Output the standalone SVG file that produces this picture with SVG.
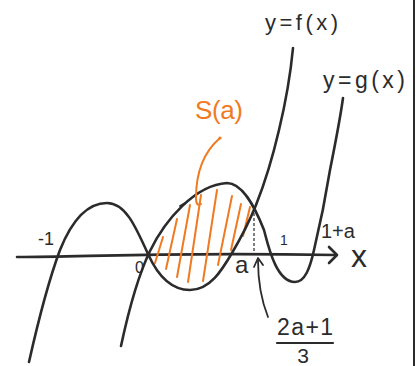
<svg xmlns="http://www.w3.org/2000/svg" width="420" height="366" viewBox="0 0 420 366">
  <defs>
    <style>
      .ink { fill: none; stroke: #2b2b2b; stroke-width: 2.6; stroke-linecap: round; stroke-linejoin: round; }
      .thin { fill: none; stroke: #2b2b2b; stroke-width: 1.8; stroke-linecap: round; stroke-linejoin: round; }
      .dash { fill: none; stroke: #2b2b2b; stroke-width: 1.2; stroke-dasharray: 3 2; }
      .hatch { fill: none; stroke: #F07A22; stroke-width: 2; stroke-linecap: round; }
      .lbl { font-family: "Liberation Sans", Arial, sans-serif; fill: #2b2b2b; }
      .olbl { font-family: "Liberation Sans", Arial, sans-serif; fill: #F07A22; }
    </style>
  </defs>
  <rect width="420" height="366" fill="#ffffff"/>
  <line x1="414" y1="0" x2="414" y2="366" stroke="#2b2b2b" stroke-width="2"/>

  <g id="axis">
    <path class="ink" d="M17,257 C90,257 150,252 336,255"/>
    <path class="ink" d="M329,247 L337,255 L329,263"/>
    <text class="lbl" x="351" y="267" font-size="32">x</text>
  </g>

  <g id="region-S">
    <path class="hatch" d="M155,263 L163,237 M166,269 L177,219 M177,277 L190,205 M188,282 L201,195 M203,281 L217,190 M218,265 L232,196 M231,250 L241,204 M243,236 L250,207"/>
  </g>

  <g id="curve-f">
    <path class="ink" d="M29,362 C38,322 48,282 60,250 C72,220 88,203 107,203 C125,203 135,225 148,254 C157,274 170,290 190,290 C210,290 222,270 232,253 C242,236 250,220 256,205 C264,185 272,160 279,130 C285,105 290,80 293,48"/>
  </g>

  <g id="curve-g">
    <path class="ink" d="M121,346 C127,318 137,278 150,251 C165,220 195,185 227,183 C242,183 254,205 264,230 C268,245 276,282 295,282 C305,282 310,268 314,250 C320,225 326,195 330,170 C335,145 340,120 343,98"/>
    <path class="thin" d="M180,206 L185,203"/>
  </g>

  <g id="label-f">
    <text class="lbl" x="265" y="30" font-size="22" textLength="73" lengthAdjust="spacing">y=f(x)</text>
  </g>
  <g id="label-g">
    <text class="lbl" x="323" y="88" font-size="23" textLength="82" lengthAdjust="spacing">y=g(x)</text>
  </g>

  <g id="label-S">
    <text class="olbl" x="195" y="119" font-size="26" textLength="48" lengthAdjust="spacing">S(a)</text>
  </g>

  <g id="ticks">
    <text class="lbl" x="38" y="245" font-size="18">-1</text>
    <text class="lbl" x="135" y="273" font-size="16">0</text>
    <text class="lbl" x="235" y="273" font-size="24">a</text>
    <text class="lbl" x="284" y="245" font-size="14" text-anchor="middle">1</text>
    <text class="lbl" x="321" y="238" font-size="20">1+a</text>
  </g>

  <g id="label-frac">
    <text class="lbl" x="277" y="335" font-size="23" textLength="56" lengthAdjust="spacing">2a+1</text>
    <line x1="277" y1="343" x2="333" y2="343" stroke="#2b2b2b" stroke-width="2.2" stroke-linecap="round"/>
    <text class="lbl" x="303" y="363" font-size="21" text-anchor="middle">3</text>
  </g>

  <g id="connectors">
    <path class="dash" d="M254,208 L254,254"/>
    <path class="thin" d="M268,317 C262,302 258,285 258,260"/>
    <path class="thin" d="M254,267 L258,258 L263,265"/>
    <path class="hatch" d="M220,138 C206,150 196,170 196,198 Q196,207 201,204"/>
    <circle cx="220" cy="138" r="1.6" fill="#F07A22"/>
  </g>
</svg>
